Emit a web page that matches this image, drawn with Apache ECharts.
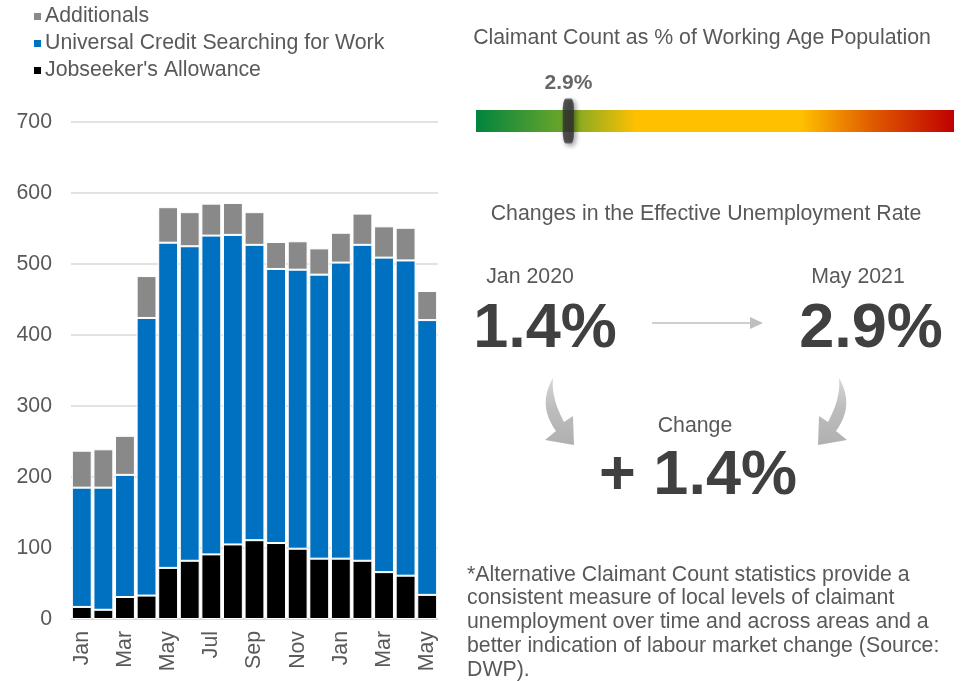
<!DOCTYPE html>
<html><head><meta charset="utf-8">
<script src="https://cdn.jsdelivr.net/npm/echarts@6/dist/echarts.min.js"></script>
<style>html,body{margin:0;padding:0;background:#fff}#c{width:976px;height:681px}</style>
</head><body><div id="c"></div>
<script>
const months = ['Jan','Feb','Mar','Apr','May','Jun','Jul','Aug','Sep','Oct','Nov','Dec','Jan','Feb','Mar','Apr','May'];
const jsa = [17,13,31,33,72,82,91,105,111,107,99,85,85,82,66,61,34];
const ucSearching = [168,172,172,391,458,443,449,436,416,386,393,400,417,445,443,444,387];
const additionals = [52,54,55,59,50,48,45,45,46,38,40,37,42,44,44,46,41];
const yTicks = {min:0, max:700, interval:100};
const claimantPct = 2.9;
const gaugeRange = [0, 15];
const rateJan2020 = '1.4%';
const rateMay2021 = '2.9%';
const rateChange = '+ 1.4%';

const FONT = '"Liberation Sans", Arial, sans-serif';
const FS = 21.3;
const TXT = '#595959';
const BIG = '#404040';
const chart = echarts.init(document.getElementById('c'));

function txt(x, y, text, size, color, weight, align) {
  return {type:'text', x:x, y:y, style:{text:text, fill:color, font:(weight||'normal')+' '+size+'px '+FONT, textAlign:align||'center', textVerticalAlign:'middle'}};
}
function quad(a, c, b, n) {
  const out = [];
  for (let i = 0; i <= n; i++) {
    const t = i / n, u = 1 - t;
    out.push([u*u*a[0] + 2*u*t*c[0] + t*t*b[0], u*u*a[1] + 2*u*t*c[1] + t*t*b[1]]);
  }
  return out;
}
function curvedArrow(mirror) {
  const m = mirror ? (x)=>1392-x : (x)=>x;
  let pts = [].concat(
    quad([553,378],[537,405],[556,431],12),
    [[545,440],[574,445],[573,416]],
    quad([564,422],[551,398],[553,378],12)
  );
  pts = pts.map(q=>[m(q[0]), q[1]]);
  return {type:'polygon', shape:{points:pts}, style:{fill:new echarts.graphic.LinearGradient(0,0,0,1,[{offset:0,color:'#d6d6d6'},{offset:0.45,color:'#bdbdbd'},{offset:1,color:'#b0b0b0'}])}};
}

const option = {
  animation:false,
  textStyle:{fontFamily:FONT},
  legend:{
    orient:'vertical', left:27, top:1, itemWidth:9, itemHeight:9, itemGap:6,
    icon:'rect', textStyle:{fontSize:FS, color:TXT, fontFamily:FONT, padding:[0,0,0,-2]},
    data:['Additionals','Universal Credit Searching for Work',"Jobseeker's Allowance"]
  },
  grid:[
    {left:71, right:538, top:122, bottom:62},
    {left:476, width:478, top:110, height:22}
  ],
  xAxis:[
    {type:'category', gridIndex:0, data:months, axisTick:{show:false},
     axisLine:{lineStyle:{color:'#d9d9d9', width:1.5}},
     axisLabel:{rotate:90, interval:1, fontSize:FS, color:TXT, margin:12, fontFamily:FONT}},
    {type:'value', gridIndex:1, min:gaugeRange[0], max:gaugeRange[1], show:false}
  ],
  yAxis:[
    {type:'value', gridIndex:0, min:yTicks.min, max:yTicks.max, interval:yTicks.interval,
     axisLine:{show:false}, axisTick:{show:false},
     splitLine:{lineStyle:{color:'#d9d9d9', width:1.5}},
     axisLabel:{fontSize:FS, color:TXT, margin:19, fontFamily:FONT}},
    {type:'category', gridIndex:1, data:['g'], show:false}
  ],
  series:[
    {name:"Jobseeker's Allowance", type:'bar', stack:'a', data:jsa, barCategoryGap:'8%',
     itemStyle:{color:'#000000', borderColor:'#ffffff', borderWidth:1}},
    {name:'Universal Credit Searching for Work', type:'bar', stack:'a', data:ucSearching,
     itemStyle:{color:'#0070C0', borderColor:'#ffffff', borderWidth:1}},
    {name:'Additionals', type:'bar', stack:'a', data:additionals,
     itemStyle:{color:'#898989', borderColor:'#ffffff', borderWidth:1}},
    {name:'gauge', type:'bar', xAxisIndex:1, yAxisIndex:1, data:[gaugeRange[1]], barWidth:'100%', silent:true,
     itemStyle:{color:new echarts.graphic.LinearGradient(0,0,1,0,[
       {offset:0,color:'#00843f'},{offset:0.18,color:'#6aa52a'},{offset:0.335,color:'#ffc000'},
       {offset:0.68,color:'#ffc000'},{offset:0.83,color:'#e05a00'},{offset:1,color:'#c00000'}])}},
    {name:'marker', type:'scatter', xAxisIndex:1, yAxisIndex:1, data:[[claimantPct,'g']],
     symbol:'roundRect', symbolSize:[11,43], silent:true, z:5,
     itemStyle:{color:'#2f2f2f', borderColor:'#555', borderWidth:1, shadowBlur:5, shadowColor:'rgba(0,0,0,0.45)', shadowOffsetX:2, shadowOffsetY:2},
     label:{show:true, position:'top', distance:5, formatter:claimantPct.toFixed(1)+'%', fontSize:21, fontWeight:'bold', color:BIG, fontFamily:FONT}}
  ],
  graphic:[
    txt(702, 38, 'Claimant Count as % of Working Age Population', FS, TXT),
    txt(706, 214, 'Changes in the Effective Unemployment Rate', FS, TXT),
    txt(530, 277, 'Jan 2020', FS, TXT),
    txt(858, 277, 'May 2021', FS, TXT),
    txt(545, 330, rateJan2020, 63, BIG, 'bold'),
    txt(871, 330, rateMay2021, 63, BIG, 'bold'),
    {type:'line', shape:{x1:652, y1:323, x2:752, y2:323}, style:{stroke:'#bfbfbf', lineWidth:1.5}},
    {type:'polygon', shape:{points:[[750,317],[763,323],[750,329]]}, style:{fill:'#bfbfbf'}},
    curvedArrow(false),
    curvedArrow(true),
    txt(695, 426, 'Change', FS, TXT),
    txt(698, 477, rateChange, 63, BIG, 'bold'),
    {type:'text', x:467, y:563, style:{text:'*Alternative Claimant Count statistics provide a\nconsistent measure of local levels of claimant\nunemployment over time and across areas and a\nbetter indication of labour market change (Source:\nDWP).', fill:TXT, font:FS+'px '+FONT, lineHeight:23.7, textAlign:'left', textVerticalAlign:'top'}}
  ]
};
chart.setOption(option);
</script></body></html>
